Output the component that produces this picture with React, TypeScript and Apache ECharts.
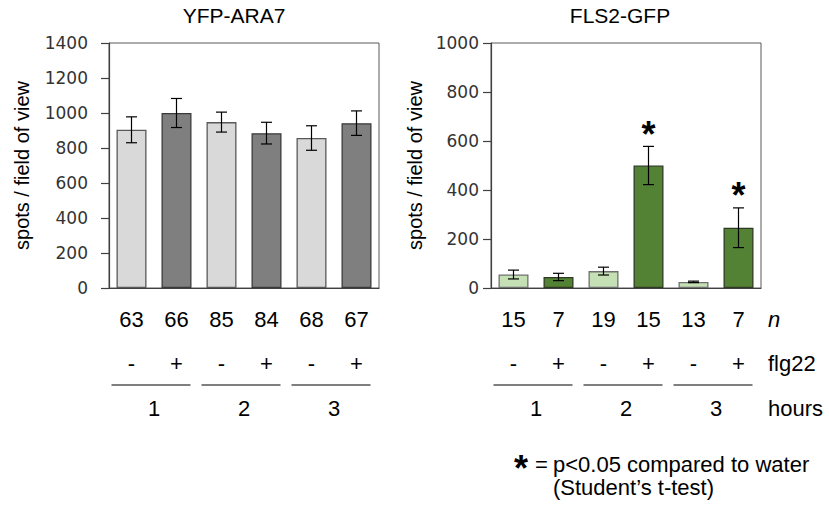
import React, { useEffect, useRef } from "react";
import * as echarts from "echarts";

const categories = ["1h -", "1h +", "2h -", "2h +", "3h -", "3h +"];
const treatment = ["-", "+", "-", "+", "-", "+"];
const hours = ["1", "2", "3"];

const araMean = [904, 1000, 948, 885, 857, 942];
const araErr = [74, 83, 57, 62, 70, 70];
const araN = ["63", "66", "85", "84", "68", "67"];

const flsMean = [55, 45, 69, 500, 25, 246];
const flsErr = [18, 15, 16, 78, 3, 81];
const flsN = ["15", "7", "19", "15", "13", "7"];
const flsSig = [0, 0, 0, 1, 0, 1];

const titles = ["YFP-ARA7", "FLS2-GFP"];
const yName = "spots / field of view";

const FONT = '"Liberation Sans", Arial, sans-serif';

export default function App() {
  const ref = useRef<HTMLDivElement>(null);

  useEffect(() => {
    if (!ref.current) return;
    const chart = echarts.init(ref.current, undefined, { renderer: "svg" });

    const grids = [
      { left: 109, top: 43, width: 270, height: 245 },
      { left: 491, top: 43, width: 270, height: 245 },
    ];

    const bottomLabel = (margin: number) => ({
      margin,
      fontSize: 22,
      color: "#000",
      fontFamily: FONT,
      interval: 0,
    });

    const xAxes: any[] = [];
    [araN, flsN].forEach((nArr, g) => {
      xAxes.push({
        gridIndex: g,
        type: "category",
        data: categories,
        axisLine: { show: true, lineStyle: { color: "#404040", width: 1.2 } },
        axisTick: { show: false },
        axisLabel: { ...bottomLabel(20), formatter: (_v: string, i: number) => nArr[i] },
      });
      xAxes.push({
        gridIndex: g,
        type: "category",
        data: categories,
        position: "bottom",
        offset: 44,
        axisLine: { show: false },
        axisTick: { show: false },
        axisLabel: { ...bottomLabel(20), formatter: (_v: string, i: number) => treatment[i] },
      });
      xAxes.push({
        gridIndex: g,
        type: "category",
        data: hours,
        position: "bottom",
        offset: 89,
        axisLine: { show: false },
        axisTick: { show: false },
        axisLabel: bottomLabel(20),
      });
    });

    const yAxes = [
      { max: 1400, margin: 21, gap: 77, size: 17 },
      { max: 1000, margin: 12, gap: 66, size: 17 },
    ].map((c, g) => ({
      gridIndex: g,
      type: "value",
      min: 0,
      max: c.max,
      interval: 200,
      name: yName,
      nameLocation: "middle",
      nameGap: c.gap,
      nameTextStyle: { fontSize: 20, color: "#000", fontFamily: FONT },
      axisLine: { show: true, lineStyle: { color: "#404040", width: 1.2 } },
      axisTick: { show: true, length: 8, lineStyle: { color: "#404040", width: 1.2 } },
      splitLine: { show: false },
      axisLabel: {
        fontSize: c.size,
        color: "#333",
        fontFamily: '"DejaVu Sans", sans-serif',
        margin: c.margin,
        formatter: (v: number) => String(v),
      },
    }));

    const barSeries = (g: number, mean: number[], light: string, dark: string, lb: string, db: string) => ({
      type: "bar",
      xAxisIndex: g * 3,
      yAxisIndex: g,
      barWidth: 30,
      data: mean.map((v, i) => ({
        value: v,
        itemStyle: {
          color: i % 2 ? dark : light,
          borderColor: i % 2 ? db : lb,
          borderWidth: 1.3,
        },
      })),
    });

    const errSeries = (g: number, mean: number[], err: number[], sig: number[]) => ({
      type: "custom",
      xAxisIndex: g * 3,
      yAxisIndex: g,
      z: 10,
      data: mean.map((m, i) => [i, m - err[i], m + err[i], sig[i]]),
      encode: { x: 0, y: [1, 2] },
      renderItem: (_p: any, api: any) => {
        const lo = api.coord([api.value(0), api.value(1)]);
        const hi = api.coord([api.value(0), api.value(2)]);
        const w = 5.5;
        const st = { stroke: "#000", lineWidth: 1.2 };
        const children: any[] = [
          { type: "line", shape: { x1: hi[0], y1: hi[1], x2: lo[0], y2: lo[1] }, style: st },
          { type: "line", shape: { x1: hi[0] - w, y1: hi[1], x2: hi[0] + w, y2: hi[1] }, style: st },
          { type: "line", shape: { x1: lo[0] - w, y1: lo[1], x2: lo[0] + w, y2: lo[1] }, style: st },
        ];
        if (api.value(3)) {
          children.push({
            type: "text",
            x: hi[0],
            y: hi[1] - 12,
            style: {
              text: "*",
              fill: "#000",
              font: `bold 36px ${FONT}`,
              textAlign: "center",
              textVerticalAlign: "middle",
            },
          });
        }
        return { type: "group", children };
      },
    });

    const titleStyle = { fontSize: 21, fontWeight: "normal", color: "#000", fontFamily: FONT };

    chart.setOption({
      animation: false,
      backgroundColor: "#fff",
      title: [
        { text: titles[0], left: 234, top: 5, textAlign: "center", padding: 0, textStyle: titleStyle },
        { text: titles[1], left: 620, top: 5, textAlign: "center", padding: 0, textStyle: titleStyle },
      ],
      grid: grids.map((g) => ({ ...g, show: true, borderColor: "#595959", borderWidth: 1, backgroundColor: "transparent" })),
      xAxis: xAxes,
      yAxis: yAxes,
      series: [
        barSeries(0, araMean, "#d9d9d9", "#7f7f7f", "#595959", "#3a3a3a"),
        errSeries(0, araMean, araErr, [0, 0, 0, 0, 0, 0]),
        barSeries(1, flsMean, "#c5e0b4", "#548235", "#6f6f6f", "#2e3b22"),
        errSeries(1, flsMean, flsErr, flsSig),
      ],
    });

    // group lines under the +/- row, positioned from the axis scale
    const graphics: any[] = [];
    [0, 1].forEach((g) => {
      for (let k = 0; k < 3; k++) {
        const a = chart.convertToPixel({ xAxisIndex: g * 3 }, categories[2 * k]) as number;
        const b = chart.convertToPixel({ xAxisIndex: g * 3 }, categories[2 * k + 1]) as number;
        graphics.push({
          type: "line",
          shape: { x1: a - 20, y1: 385, x2: b + 14, y2: 385 },
          style: { stroke: "#000", lineWidth: 1.2 },
        });
      }
    });
    const sideText = (text: string, y: number, italic = false) => ({
      type: "text",
      x: 768,
      y,
      style: {
        text,
        fill: "#000",
        font: `${italic ? "italic " : ""}22px ${FONT}`,
        textAlign: "left",
        textVerticalAlign: "middle",
      },
    });
    graphics.push(sideText("n", 319, true));
    graphics.push(sideText("flg22", 363));
    graphics.push(sideText("hours", 408));
    graphics.push({
      type: "text",
      x: 521,
      y: 468,
      style: { text: "*", fill: "#000", font: `bold 36px ${FONT}`, textAlign: "center", textVerticalAlign: "middle" },
    });
    graphics.push({
      type: "text",
      x: 535,
      y: 464,
      style: { text: "=", fill: "#000", font: `22px ${FONT}`, textAlign: "left", textVerticalAlign: "middle" },
    });
    graphics.push({
      type: "text",
      x: 553,
      y: 464,
      style: { text: "p<0.05 compared to water", fill: "#000", font: `22px ${FONT}`, textAlign: "left", textVerticalAlign: "middle" },
    });
    graphics.push({
      type: "text",
      x: 553,
      y: 487,
      style: { text: "(Student\u2019s t-test)", fill: "#000", font: `22px ${FONT}`, textAlign: "left", textVerticalAlign: "middle" },
    });
    chart.setOption({ graphic: graphics });

    return () => chart.dispose();
  }, []);

  return (
    <div
      ref={ref}
      style={{ position: "absolute", left: 0, top: 0, width: 829, height: 506, background: "#fff" }}
    />
  );
}
